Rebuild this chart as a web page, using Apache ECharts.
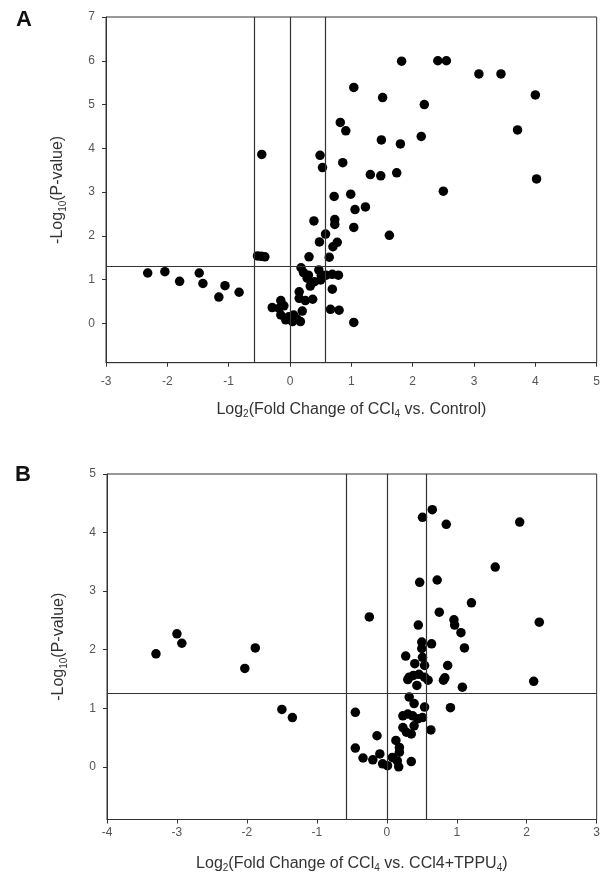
<!DOCTYPE html>
<html>
<head>
<meta charset="utf-8">
<script src="https://cdn.jsdelivr.net/npm/echarts@6/dist/echarts.min.js"></script>
<style>
html,body{margin:0;padding:0;background:#fff;}
#chart{width:603px;height:880px;}
</style>
</head>
<body>
<div id="chart"></div>
<script>
// Panel A: Log2 fold change (CCl4 vs Control) and -log10(P)
const pointsA = [
  [-2.32,1.15],[-2.04,1.18],[-1.80,0.96],[-1.48,1.15],[-1.42,0.91],[-1.16,0.60],[-1.06,0.86],[-0.83,0.71],
  [-0.46,3.86],[-0.53,1.54],[-0.47,1.53],[-0.41,1.52],
  [-0.29,0.36],[-0.18,0.34],[-0.10,0.40],[-0.15,0.52],[-0.15,0.19],[-0.02,0.15],[0.06,0.19],[-0.07,0.08],[0.04,0.04],[0.17,0.04],[0.11,0.10],
  [0.15,0.72],[0.15,0.57],[0.25,0.52],[0.37,0.55],[0.20,0.28],
  [0.18,1.27],[0.22,1.16],[0.28,1.03],[0.33,0.85],[0.47,1.22],[0.51,1.10],[0.59,1.10],[0.50,0.99],[0.69,1.12],[0.79,1.10],[0.69,0.78],[0.66,0.32],[0.80,0.30],[0.30,1.10],[0.40,0.95],
  [0.31,1.52],[0.64,1.51],[0.48,1.86],[0.77,1.85],[0.70,1.75],[0.58,2.04],[0.39,2.34],[0.73,2.37],[0.73,2.26],[1.04,2.19],[1.62,2.01],
  [0.72,2.90],[0.99,2.95],[1.06,2.60],[1.23,2.66],[1.04,0.02],
  [0.49,3.84],[0.53,3.56],[0.86,3.67],[1.31,3.40],[1.48,3.37],[1.74,3.44],[4.02,3.30],[2.50,3.02],
  [0.82,4.59],[0.91,4.40],[3.71,4.42],[1.49,4.19],[1.80,4.10],[2.14,4.27],
  [1.04,5.39],[1.51,5.16],[2.19,5.00],[4.00,5.22],
  [1.82,5.99],[2.41,6.00],[2.55,6.00],[3.08,5.70],[3.44,5.70]
];
// Panel B: Log2 fold change (CCl4 vs CCl4+TPPU) and -log10(P)
const pointsB = [
  [-3.30,1.93],[-3.00,2.27],[-2.93,2.11],[-2.03,1.68],[-1.88,2.03],[-1.50,0.98],[-1.35,0.84],
  [-0.25,2.56],[-0.45,0.93],[-0.45,0.32],[-0.34,0.15],[-0.20,0.12],[-0.14,0.53],[-0.10,0.22],[-0.06,0.05],[0.01,0.02],[0.08,0.16],[0.15,0.10],[0.17,0.00],[0.13,0.45],[0.18,0.33],[0.18,0.25],[0.35,0.09],
  [0.23,0.67],[0.28,0.59],[0.35,0.56],[0.39,0.70],[0.63,0.63],[0.23,0.87],[0.30,0.90],[0.37,0.87],[0.44,0.82],[0.51,0.84],[0.39,1.08],[0.54,1.02],[0.32,1.19],
  [0.43,1.39],[0.30,1.49],[0.32,1.53],[0.38,1.56],[0.46,1.58],[0.54,1.53],[0.59,1.48],[0.40,1.76],[0.54,1.73],[0.27,1.89],[0.51,1.87],[0.50,2.02],[0.50,2.13],[0.64,2.10],
  [0.45,2.42],[0.75,2.64],[0.47,3.15],[0.72,3.19],[0.51,4.26],[0.65,4.39],[0.85,4.14],
  [0.81,1.48],[0.83,1.52],[0.87,1.73],[0.91,1.01],[0.96,2.51],[0.97,2.42],[1.06,2.29],[1.11,2.03],[1.08,1.36],[1.21,2.80],[1.55,3.41],[1.90,4.18],[2.18,2.47],[2.10,1.46]
];
// axis ranges and tick labels
const xRangeA = [-3, 5];
const yRangeA = [-0.9, 7];
const yTicksA = [0, 1, 2, 3, 4, 5, 6, 7];
const xRangeB = [-4, 3];
const yRangeB = [-0.9, 5];
const yTicksB = [0, 1, 2, 3, 4, 5];
// thresholds: fold change +-1.5 (log2) and p = 0.05
const foldLinesA = [-0.585, 0, 0.585];
const pLineA = 1.3;
const foldLinesB = [-0.585, 0, 0.575];
const pLineB = 1.26;
const xTitleA = '{n|Log}{s|2}{n|(Fold Change of CCl}{s|4}{n| vs. Control)}';
const xTitleB = '{n|Log}{s|2}{n|(Fold Change of CCl}{s|4}{n| vs. CCl4+TPPU}{s|4}{n|)}';
const yTitle = '{n|-Log}{s|10}{n|(P-value)}';

const FONT = '"Liberation Sans", Arial, sans-serif';
const AX = '#333';
const rich = {
  n: {fontSize: 16, fontFamily: FONT, color: '#333', lineHeight: 20, verticalAlign: 'middle'},
  s: {fontSize: 10, fontFamily: FONT, color: '#333', lineHeight: 10, verticalAlign: 'bottom'}
};
function xAxisCfg(idx, range, title, labelMargin, gap) {
  return {
    type: 'value', gridIndex: idx, min: range[0], max: range[1], interval: 1,
    splitLine: {show: false},
    axisLine: {show: true, onZero: false, lineStyle: {color: AX, width: 1}},
    axisTick: {show: true, length: 4, inside: false, lineStyle: {color: AX}},
    axisLabel: {fontSize: 12, color: '#555', fontFamily: FONT, margin: labelMargin},
    name: title, nameLocation: 'middle', nameGap: gap,
    nameTextStyle: {rich: rich}
  };
}
function yAxisCfg(idx, range, ticks) {
  return {
    type: 'value', gridIndex: idx, min: range[0], max: range[1],
    splitLine: {show: false},
    axisLine: {show: true, onZero: false, lineStyle: {color: AX, width: 1}},
    axisTick: {show: true, length: 4, inside: false, customValues: ticks, lineStyle: {color: AX}},
    axisLabel: {fontSize: 12, color: '#555', fontFamily: FONT, margin: 11, customValues: ticks},
    name: yTitle, nameLocation: 'middle', nameGap: 38, nameRotate: 90,
    nameTextStyle: {rich: rich}
  };
}
function refLines(xs, yv) {
  return {
    silent: true, symbol: 'none', animation: false,
    label: {show: false},
    lineStyle: {color: '#333', width: 1.2, type: 'solid', opacity: 1},
    data: xs.map(v => ({xAxis: v})).concat([{yAxis: yv}])
  };
}
const chart = echarts.init(document.getElementById('chart'), null, {renderer: 'canvas'});
chart.setOption({
  animation: false,
  backgroundColor: '#fff',
  title: [
    {text: 'A', left: 11, top: 4, textStyle: {fontSize: 22, fontWeight: 'bold', color: '#111', fontFamily: FONT}},
    {text: 'B', left: 10, top: 459, textStyle: {fontSize: 22, fontWeight: 'bold', color: '#111', fontFamily: FONT}}
  ],
  grid: [
    {left: 106, right: 4, top: 17, height: 345.7, show: true, borderColor: AX, borderWidth: 1, backgroundColor: 'transparent'},
    {left: 107, right: 3, top: 474, height: 345.5, show: true, borderColor: AX, borderWidth: 1, backgroundColor: 'transparent'}
  ],
  xAxis: [xAxisCfg(0, xRangeA, xTitleA, 13, 37), xAxisCfg(1, xRangeB, xTitleB, 7, 34)],
  yAxis: [yAxisCfg(0, yRangeA, yTicksA), yAxisCfg(1, yRangeB, yTicksB)],
  series: [
    {type: 'scatter', xAxisIndex: 0, yAxisIndex: 0, data: pointsA, symbol: 'circle', symbolSize: 9.5,
     itemStyle: {color: '#000', opacity: 1}, markLine: refLines(foldLinesA, pLineA)},
    {type: 'scatter', xAxisIndex: 1, yAxisIndex: 1, data: pointsB, symbol: 'circle', symbolSize: 9.5,
     itemStyle: {color: '#000', opacity: 1}, markLine: refLines(foldLinesB, pLineB)}
  ]
});
</script>
</body>
</html>
